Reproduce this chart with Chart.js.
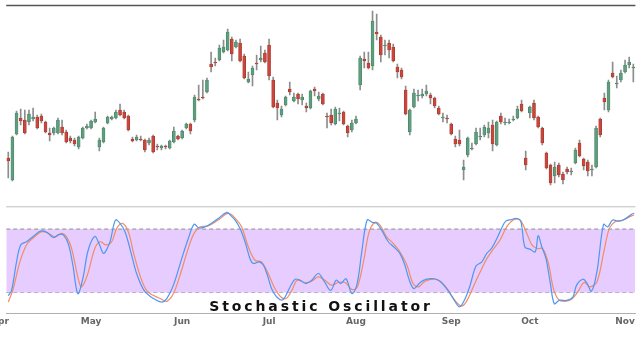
<!DOCTYPE html>
<html><head><meta charset="utf-8">
<script src="https://cdn.jsdelivr.net/npm/chart.js@4/dist/chart.umd.min.js"></script>
<style>
html,body{margin:0;padding:0;background:#fff;width:641px;height:358px;overflow:hidden}
#top{position:absolute;left:0;top:0}
#bot{position:absolute;left:0;top:195px}
</style></head><body>
<canvas id="top" width="641" height="200"></canvas>
<canvas id="bot" width="641" height="163"></canvas>
<script>
// Daily OHLC (trading days Apr 3 – Nov 5)
const openP  = [42,20,66,82,80,78,81,83,84,78,67,67,67,73,68,62,60,53,62,72,72,78,53,58,77,81,82,90,88,84,61,60,61,60,57,64,54,52,54,52,58,64,62,72,76,80,101,103,108,136,138,140,148,150,161,153,157,144,118,125,137,140,147,155,120,97,85,95,111,99,106,100,94,92,111,101,106,84,85,76,86,88,74,70,77,115,141,137,134,168,163,154,157,153,133,130,110,68,93,104,104,106,105,102,92,82,82,76,61,60,30,45,51,56,63,65,67,75,55,84,77,77,80,82,96,42,87,97,83,72,47,35,24,35,26,31,28,37,57,41,38,30,33,81,102,90,127,116,120,128,135,132];
const highP  = [48,64,89,91,90,90,92,85,86,79,72,73,82,80,70,64,62,64,73,76,80,88,62,73,84,84,90,96,90,85,63,65,64,61,62,65,56,55,55,60,73,65,70,77,77,105,115,120,122,148,142,155,160,171,163,160,161,146,128,134,145,154,150,161,123,100,94,104,118,107,107,106,97,110,113,108,107,87,91,93,92,89,75,80,84,144,148,148,189,186,165,160,160,156,136,132,114,91,111,110,111,115,107,103,94,87,85,77,64,70,40,63,57,72,72,75,78,80,79,87,82,81,84,94,100,49,94,100,84,73,48,36,38,37,28,33,32,52,60,42,40,35,74,82,107,120,138,124,130,140,143,136];
const lowP   = [22,19,65,75,66,75,79,71,77,67,59,65,66,65,57,57,54,51,61,71,71,77,49,57,76,80,81,84,81,69,58,59,59,48,55,47,50,50,51,51,57,60,61,71,66,78,99,101,107,128,134,139,147,149,139,152,138,121,117,114,130,138,137,120,92,80,83,94,105,98,96,95,88,91,104,99,95,72,75,75,79,75,63,68,76,110,132,131,130,160,138,145,142,138,122,121,85,65,92,99,102,104,96,92,85,78,77,65,53,54,20,43,50,55,60,63,62,49,54,76,75,76,79,81,88,30,82,80,72,55,31,15,17,23,16,26,25,36,43,30,24,24,32,63,90,88,122,112,118,127,132,118];
const closeP = [39,63,87,79,67,86,83,72,79,68,65,72,80,67,58,59,56,63,72,74,79,81,60,72,83,83,88,85,82,70,59,63,60,50,60,48,53,54,53,59,69,61,69,76,69,103,100,102,120,133,137,152,153,168,146,158,139,122,121,132,136,142,138,124,93,92,91,103,108,103,101,103,92,109,109,104,96,83,77,91,87,76,67,77,81,142,139,132,179,166,145,155,150,139,128,123,86,90,107,105,106,109,102,94,86,83,81,66,56,56,33,62,52,68,64,73,72,56,78,78,78,78,81,91,89,35,93,82,73,57,32,17,33,25,20,28,29,50,44,34,29,31,72,65,98,118,123,117,127,135,138,133];

// Stochastic oscillator (x = trading-day index)
const kDays = [0,0.8,2,3,4.4,6,7.8,9.3,10.9,12.3,13.3,14.5,15.6,16.8,18,19.3,20.9,22,23,23.9,24.7,25.9,27,28.2,29.6,31,32.8,34.4,35.4,37.1,38.3,39.9,41.9,43.5,44.9,46.1,47.5,49.1,50.7,52.8,53.7,54.8,56,57.2,58.4,59.2,60.6,61.6,62.6,63.6,64.8,66.1,66.9,68.1,69.3,70.5,71.9,73.3,74.9,76.3,77.9,79.2,80.3,81.6,83,84.2,85.4,86.7,88,89,90.2,91.8,93.2,94.6,95.8,96.9,98,99.5,101.1,102.9,104.3,105.9,107.5,109,110.3,111.5,113,114.4,115.6,116.8,118.1,119.2,120.2,121.6,122.8,123.8,124.8,126,127.3,128,128.9,129.9,130.9,131.9,133.1,134.9,136.4,137.3,138.8,139.7,140.9,142.2,143.8,144.8,146,147.4,149,150.6,151.2];
const kVals = [17,22,49,65,68,73,78,77,72,75,74.5,66,46,19,33,60,73,65.5,57,61.6,69.6,88.5,85.4,77.5,58.5,38,22,16,13.6,11,14.3,27,52,71,84.5,81,82,85.5,90,95.8,93,88.5,80.6,68,52,47.5,49,46,36.4,23.8,16,12.9,16,25.4,32.6,31.6,28.5,31.6,38,30.7,22,31.6,28.5,33,19,27,58.5,88.5,86.3,85.4,79,68,63,57,46,31.6,23.7,29.5,32.6,33,30.7,23.7,14.3,6.4,13.6,26,45,49,57,62,71.5,81,87.5,89,90,87.5,63,61,58.5,73.6,63,52,30,9.5,12.6,12.6,15.8,27,32.6,29.5,21.3,39.5,84.4,82,88.5,87.5,89.5,94,95];
const dDays = [0,1.2,2.8,4.4,6,8.1,9.7,11.3,12.9,14.1,15.3,16.9,17.7,19.1,20.9,22.2,23.6,25,26.2,27.6,29,30.2,31.8,33.4,35,36.7,38.3,39.9,41.5,43.1,44.7,46.3,48.3,50.5,53.2,55.2,56.4,58,59.6,61.2,62.8,64.4,65.8,67.1,68.5,69.8,71.7,73.3,74.9,76.5,78.1,79.7,81.4,83,84.3,85.8,87.2,88.6,89.8,91.4,93,94.6,96.3,97.8,99.1,100.7,103.1,104.7,106.3,107.9,109.5,110.7,112.4,114,115.6,117.3,118.8,120.4,122,123.6,125.1,126.5,127.8,129.1,130.5,131.7,132.9,134.5,136.1,137.7,139.1,140.5,142.2,143.8,145.2,146.6,148.2,149.8,151.2];
const dVals = [11,23.7,49,65,71.5,77.5,76,72.6,76,72.6,61.6,33,25.4,36.4,61.6,68,65,68,80.6,85.4,77.5,58.5,36.4,22,17.4,14.3,11.7,19,36.4,57,74.5,82,83,88,94.8,88.5,82,63,50.5,49,38,23.8,16,14.3,22,31.6,29.5,30.7,34.8,31.6,27,29.5,29.5,23,25,49,77.5,86.3,83.7,72.6,66.4,58.5,46,28.5,25.4,30.7,32.6,29.5,22,12.6,7.3,11.7,26,39.5,52,61.6,69.6,82,88.5,88.5,77.5,65,61.6,61.6,47.4,23.7,13.6,11.7,13.6,21.3,29.5,25.4,30,57,80.6,87,88,91,93.5];

const monthLabels = ['Apr','May','Jun','Jul','Aug','Sep','Oct','Nov'];
const monthStart  = [-2,20,42,63,84,107,126,149];
const bandLevels  = [80,20];
const titleText = 'Stochastic Oscillator';

const UP='#5e9e7f', UPB='#3f7d5f', DN='#c9463a', DNB='#a3342a';
const idx = openP.map((_,i)=>i);
const XMIN=-0.5, XMAX=openP.length-0.5;

const topLine = {id:'topLine', afterDraw(c, a, o){
  const {ctx, chartArea:ca} = c; ctx.save();
  ctx.strokeStyle=o.color; ctx.lineWidth=o.width;
  ctx.beginPath(); ctx.moveTo(ca.left, ca.top+0.5); ctx.lineTo(ca.right, ca.top+0.5); ctx.stroke();
  ctx.restore();
}};

new Chart(document.getElementById('top'), {
  type:'bar',
  data:{datasets:[
    {data: idx.map(i=>({x:i, y:[lowP[i], highP[i]]})), backgroundColor:'#8d8d8d', barThickness:1, grouped:false, order:2},
    {data: idx.map(i=>({x:i, y:[openP[i], closeP[i]]})),
     backgroundColor: idx.map(i=> closeP[i]>=openP[i]?UP:DN),
     borderColor: idx.map(i=> closeP[i]>=openP[i]?UPB:DNB),
     borderWidth:0.6, borderSkipped:false, barThickness:3, grouped:false, order:1}
  ]},
  options:{responsive:false, animation:false, events:[],
    layout:{autoPadding:false, padding:{left:6.2,right:5.6,top:5,bottom:5}},
    plugins:{legend:{display:false}, tooltip:{enabled:false}, topLine:{color:'#555', width:1.4}},
    scales:{
      x:{type:'linear', min:XMIN, max:XMAX, offset:false, display:false},
      y:{min:5, max:195, display:false}
    }
  },
  plugins:[topLine]
});

const titlePlugin = {id:'oscTitle', afterDatasetsDraw(c){
  const ctx=c.ctx; ctx.save();
  ctx.font='bold 14px "DejaVu Sans"'; ctx.fillStyle='#111';
  ctx.letterSpacing='2.9px';
  const w = ctx.measureText(titleText).width;
  ctx.textBaseline='alphabetic';
  ctx.fillText(titleText, 321 - w/2, 116);
  ctx.restore();
}};

const bandStyle = {borderColor:'#8f8f8f', borderWidth:1, borderDash:[4,3], pointRadius:0, order:10};
new Chart(document.getElementById('bot'), {
  type:'line',
  data:{datasets:[
    Object.assign({data:[{x:XMIN,y:bandLevels[0]},{x:XMAX,y:bandLevels[0]}], fill:'+1', backgroundColor:'rgba(230,204,255,1)'}, bandStyle),
    Object.assign({data:[{x:XMIN,y:bandLevels[1]},{x:XMAX,y:bandLevels[1]}], fill:false}, bandStyle),
    {data:dDays.map((d,i)=>({x:d,y:dVals[i]})), borderColor:'#f28c66', borderWidth:1.2, pointRadius:0, tension:0.35, fill:false, order:2},
    {data:kDays.map((d,i)=>({x:d,y:kVals[i]})), borderColor:'#4d97f0', borderWidth:1.2, pointRadius:0, tension:0.35, fill:false, order:1}
  ]},
  options:{responsive:false, animation:false, events:[],
    layout:{autoPadding:false, padding:{left:6.2,right:5.6,top:11.3,bottom:27.5}},
    plugins:{legend:{display:false}, tooltip:{enabled:false}, topLine:{color:'#bdbdbd', width:1}},
    scales:{
      x:{type:'linear', min:XMIN, max:XMAX,
         afterBuildTicks(s){ s.ticks = monthStart.map(v=>({value:v})); },
         afterFit(s){ s.paddingLeft = 0; s.paddingRight = 0; },
         ticks:{autoSkip:false, maxRotation:0, padding:3, color:'#666', font:{family:'"DejaVu Sans"', size:9, weight:'bold'},
                callback(v){ const k=monthStart.indexOf(v); return k>=0?monthLabels[k]:''; }},
         grid:{display:false, drawTicks:false},
         border:{display:true, color:'#b0b0b0', width:1}},
      y:{min:0, max:101.5, display:false}
    }
  },
  plugins:[topLine, titlePlugin]
});
</script>
</body></html>
